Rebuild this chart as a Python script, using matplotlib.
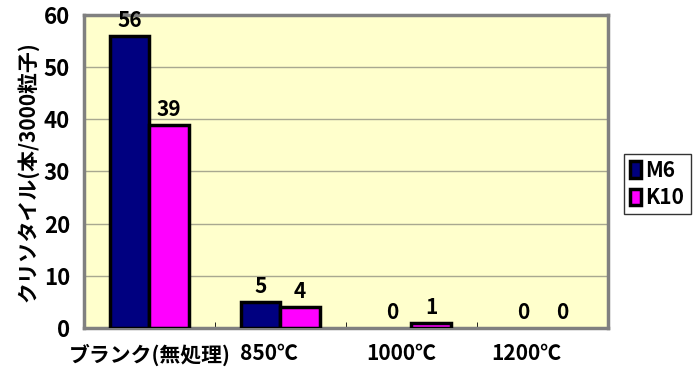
import matplotlib.pyplot as plt
import matplotlib.transforms as mtransforms
import numpy as np

plt.rcParams['font.family'] = ['Noto Sans CJK JP', 'DejaVu Sans']
plt.rcParams['font.weight'] = 'bold'

# Donnees
categories = ['ブランク(無処理)', '850℃', '1000℃', '1200℃']
m6 = [56, 5, 0, 0]
k10 = [39, 4, 1, 0]
series_names = ['M6', 'K10']
colors = ['#000080', '#FF00FF']
label_shift = [0, -12, -10, -16]   # decalage des etiquettes (px)

fig = plt.figure(figsize=(6.93, 3.76), dpi=100)
ax = fig.add_axes([0.1212, 0.1277, 0.756, 0.8324])
ax.set_facecolor('#FFFFCC')

x = np.arange(len(categories))
w = 0.30
for i, (vals, name, col) in enumerate(zip([m6, k10], series_names, colors)):
    pos = x + (i - 0.5) * w
    lw = [0 if v == 0 else 2.5 for v in vals]
    ax.bar(pos, vals, w, color=col, edgecolor='black', linewidth=lw,
           label=name, zorder=3)
    for p, v in zip(pos, vals):
        ax.text(p, v + 0.9, str(v), ha='center', va='bottom',
                fontsize=15, fontweight='bold', zorder=4)

ax.set_xlim(-0.5, len(categories) - 0.5)
ax.set_ylim(0, 60)
ax.set_yticks(range(0, 61, 10))
ax.grid(axis='y', color='#A8A890', linewidth=1, zorder=1)
ax.set_axisbelow(True)

ax.set_xticks(x)
ax.set_xticklabels(categories, fontsize=15, fontweight='bold')
ax.set_xticks(np.arange(0.5, len(categories) - 0.5, 1), minor=True)
ax.tick_params(axis='x', which='major', length=0, pad=11)
ax.tick_params(axis='x', which='minor', direction='in', length=4, color='black')
ax.tick_params(axis='y', length=0, pad=10, labelsize=16)

for lab, dx in zip(ax.get_xticklabels(), label_shift):
    lab.set_transform(lab.get_transform() +
                      mtransforms.ScaledTranslation(dx / 100, 0, fig.dpi_scale_trans))

ax.set_ylabel('クリソタイル(本/3000粒子)', fontsize=15, fontweight='bold', labelpad=4)

for s in ax.spines.values():
    s.set_color('#808080')
    s.set_linewidth(2.5)

leg = ax.legend(loc='center left', bbox_to_anchor=(1.03, 0.46), frameon=True,
                fancybox=False, fontsize=15, handlelength=0.55, handleheight=0.85,
                handletextpad=0.2, borderpad=0.3, labelspacing=0.3,
                borderaxespad=0)
leg.get_frame().set_edgecolor('black')
leg.get_frame().set_linewidth(1)

plt.savefig('out.png', dpi=100)
